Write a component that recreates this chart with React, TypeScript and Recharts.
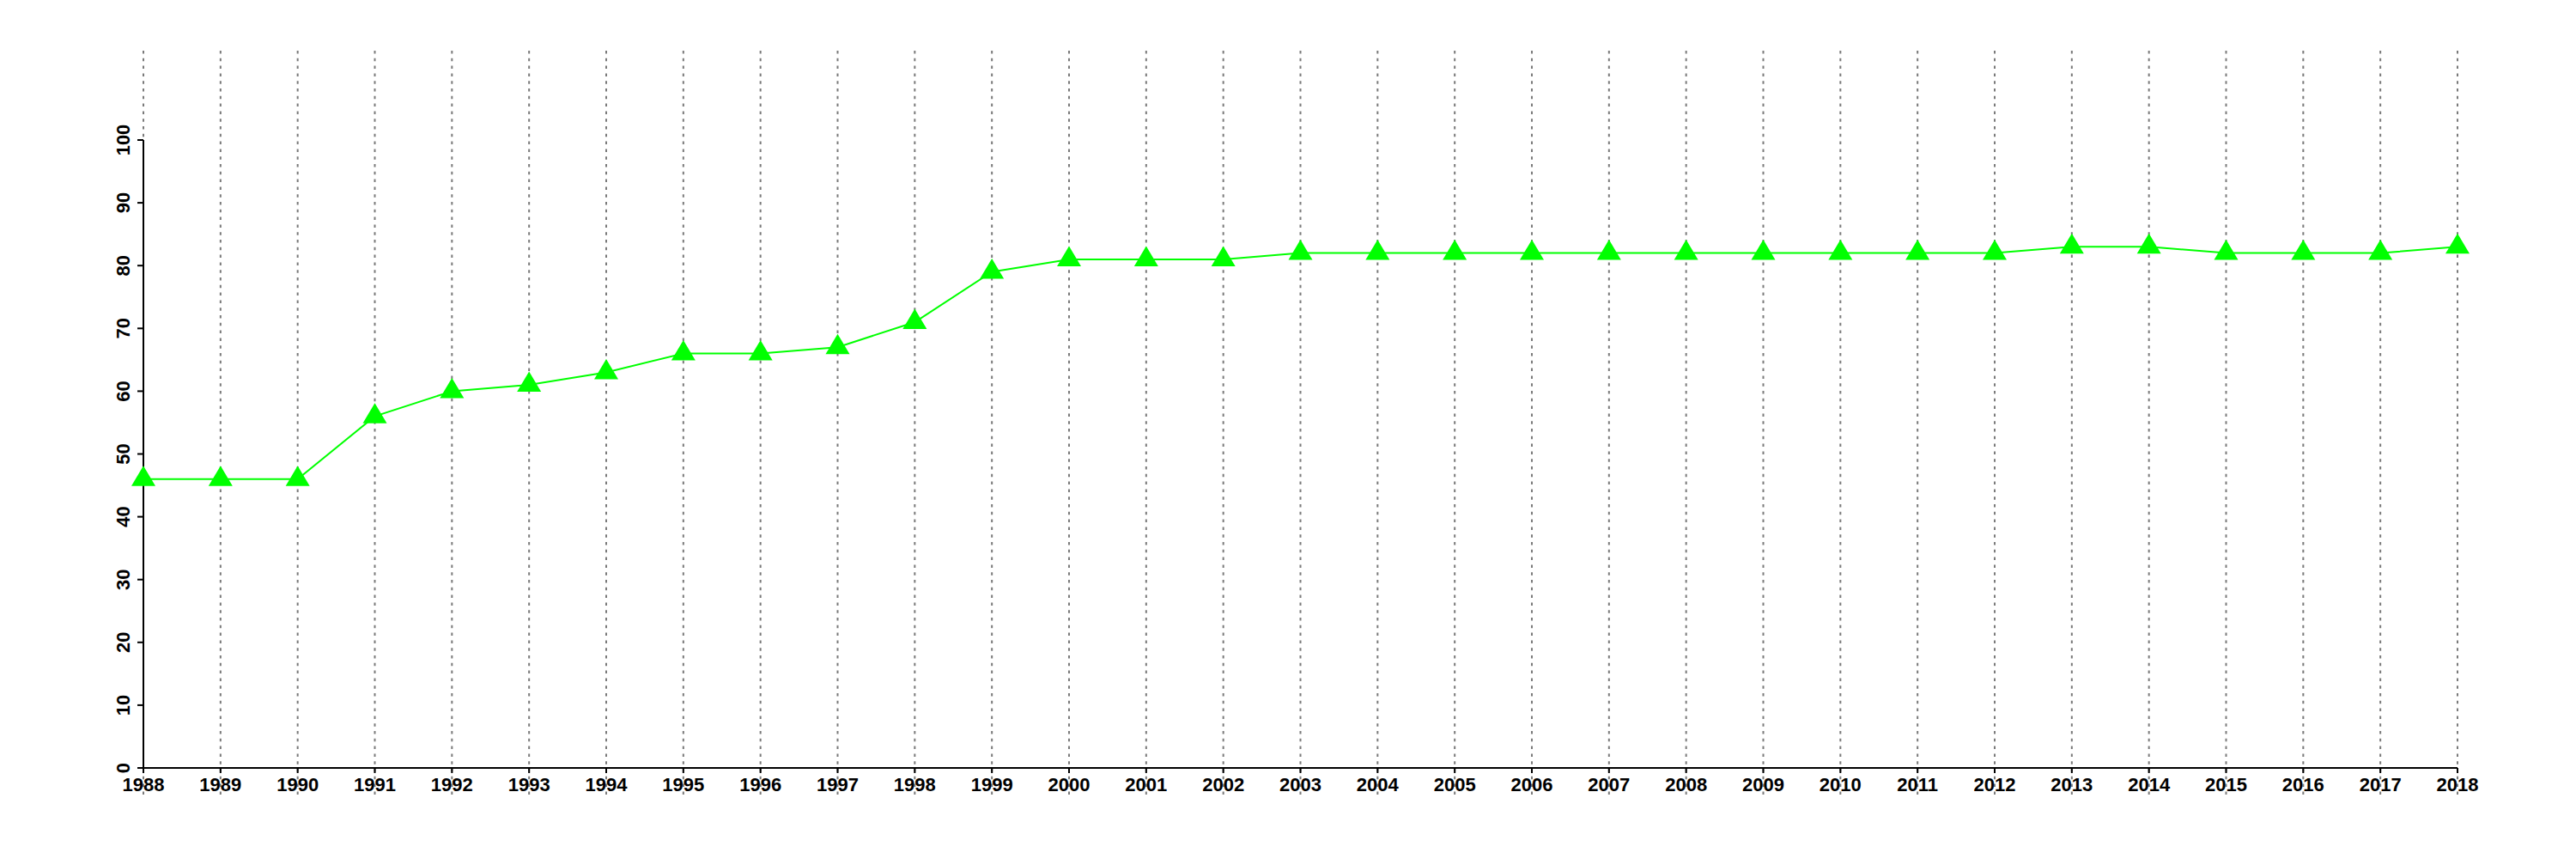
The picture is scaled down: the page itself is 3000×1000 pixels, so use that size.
import { LineChart, Line, XAxis, YAxis, CartesianGrid } from "recharts";

const years = [
  1988, 1989, 1990, 1991, 1992, 1993, 1994, 1995, 1996, 1997, 1998, 1999, 2000, 2001, 2002, 2003,
  2004, 2005, 2006, 2007, 2008, 2009, 2010, 2011, 2012, 2013, 2014, 2015, 2016, 2017, 2018,
];

const values = [
  46, 46, 46, 56, 60, 61, 63, 66, 66, 67, 71, 79, 81, 81, 81, 82,
  82, 82, 82, 82, 82, 82, 82, 82, 82, 83, 83, 82, 82, 82, 83,
];

const yTicks = [0, 10, 20, 30, 40, 50, 60, 70, 80, 90, 100];

const data = years.map((year, i) => ({ year, value: values[i] }));

const font = "'Liberation Sans', Arial, Helvetica, sans-serif";

// triangle marker, centroid on the data point
function TriangleDot(props: any) {
  const { cx, cy, index } = props;
  if (cx == null || cy == null) return null;
  return (
    <polygon
      key={`tri-${index}`}
      points={`${cx},${cy - 15.5} ${cx - 14},${cy + 8} ${cx + 14},${cy + 8}`}
      fill="#00ff00"
      stroke="none"
    />
  );
}

// rotated y tick label
function YTick(props: any) {
  const { x, y, payload } = props;
  return (
    <text
      x={x}
      y={y}
      transform={`rotate(-90 ${x} ${y})`}
      textAnchor="middle"
      fontSize={22}
      fontWeight="bold"
      fontFamily={font}
      fill="#000"
    >
      {payload.value}
    </text>
  );
}

// grid lines run past the plot, above it and through the year labels
function GridLine(props: any) {
  const { x1, x2, y1, y2, key } = props;
  return (
    <line
      key={key}
      x1={x1}
      x2={x2}
      y1={Math.min(y1, y2) - 104}
      y2={Math.max(y1, y2) + 33}
      stroke="#7a7a7a"
      strokeWidth={2}
      strokeDasharray="3.5 5.3"
    />
  );
}

export default function App() {
  return (
    <div style={{ position: "absolute", left: 0, top: 0, background: "#fff" }}>
      <LineChart
        width={3000}
        height={1000}
        data={data}
        margin={{ top: 163, right: 138, bottom: 0, left: 0 }}
      >
        <CartesianGrid horizontal={false} vertical={GridLine} />
        <XAxis
          dataKey="year"
          type="number"
          domain={[1988, 2018]}
          ticks={years}
          interval={0}
          height={106}
          tickSize={6}
          tickMargin={5}
          axisLine={{ stroke: "#000", strokeWidth: 2 }}
          tickLine={{ stroke: "#000", strokeWidth: 2 }}
          tick={{ fontSize: 22, fontWeight: "bold", fontFamily: font, fill: "#000" }}
        />
        <YAxis
          type="number"
          domain={[0, 100]}
          ticks={yTicks}
          interval={0}
          width={167}
          tickSize={7}
          tickMargin={9}
          axisLine={{ stroke: "#000", strokeWidth: 2 }}
          tickLine={{ stroke: "#000", strokeWidth: 2 }}
          tick={<YTick />}
        />
        <Line
          dataKey="value"
          stroke="#00ff00"
          strokeWidth={2}
          dot={<TriangleDot />}
          activeDot={false}
          isAnimationActive={false}
        />
      </LineChart>
    </div>
  );
}
